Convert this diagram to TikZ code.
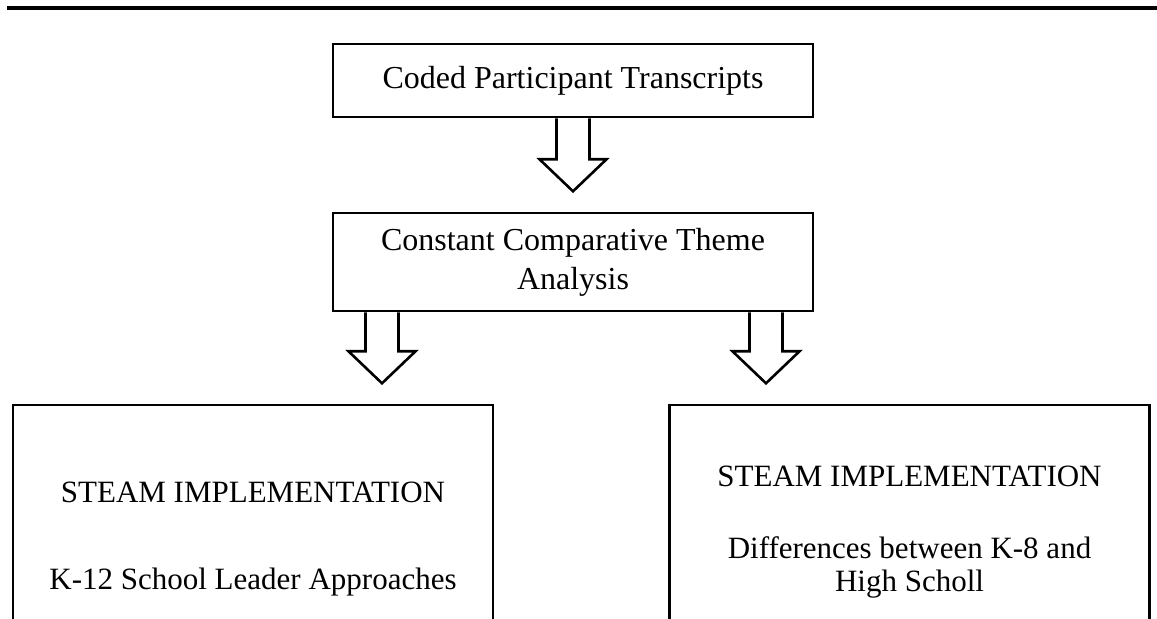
\documentclass[tikz,border=0pt]{standalone}
\usepackage{fontspec}
\setmainfont{Liberation Serif}
\usetikzlibrary{positioning}

\begin{document}
\begin{tikzpicture}[x=0.5pt,y=-0.5pt,line width=1.3pt]
    \tikzstyle{box}=[rectangle,draw,align=center,inner sep=0pt,minimum width=240pt]
    \tikzstyle{txt}=[anchor=base,inner sep=0pt,font=\fontsize{15.5}{17}\selectfont]
    \tikzstyle{hollow}=[draw,fill=white,line join=miter]
    \clip (0,0) rectangle (1157,619);
    \draw [line width=2pt] (7,8) -- (1157,8);
    \node [box,minimum height=36.5pt,font=\fontsize{16}{19.5}\selectfont] (coded) at (573,80.5) {Coded Participant Transcripts};
    \node [box,minimum height=49pt,font=\fontsize{16}{19.5}\selectfont] (theme) at (573,262) {Constant Comparative Theme\\Analysis};
    \node [box,minimum height=150pt] (leftbox) at (253,555) {};
    \node [box,minimum height=150pt] (rightbox) at (909.5,555) {};
    \node [txt] (lefttitle) at (253,503) {STEAM IMPLEMENTATION};
    \node [txt] (leftsub) at (253,590) {K-12 School Leader Approaches};
    \node [txt] (righttitle) at (909.5,487) {STEAM IMPLEMENTATION};
    \node [txt] (rightsub) at (909.5,559) {Differences between K-8 and};
    \node [txt] (rightsubb) at (909.5,592) {High Scholl};
    \draw [hollow] ([xshift=-8.25pt]coded.south) -- ++(0,41) -- ++(-17,0) -- ++(33.5,32) -- ++(33.5,-32) -- ++(-17,0) -- ++(0,-41);
    \draw [hollow] ([xshift=-103.75pt]theme.south) -- ++(0,39) -- ++(-17,0) -- ++(33.5,32) -- ++(33.5,-32) -- ++(-17,0) -- ++(0,-39);
    \draw [hollow] ([xshift=88.25pt]theme.south) -- ++(0,39) -- ++(-17,0) -- ++(33.5,32) -- ++(33.5,-32) -- ++(-17,0) -- ++(0,-39);
  \end{tikzpicture}
\end{document}
